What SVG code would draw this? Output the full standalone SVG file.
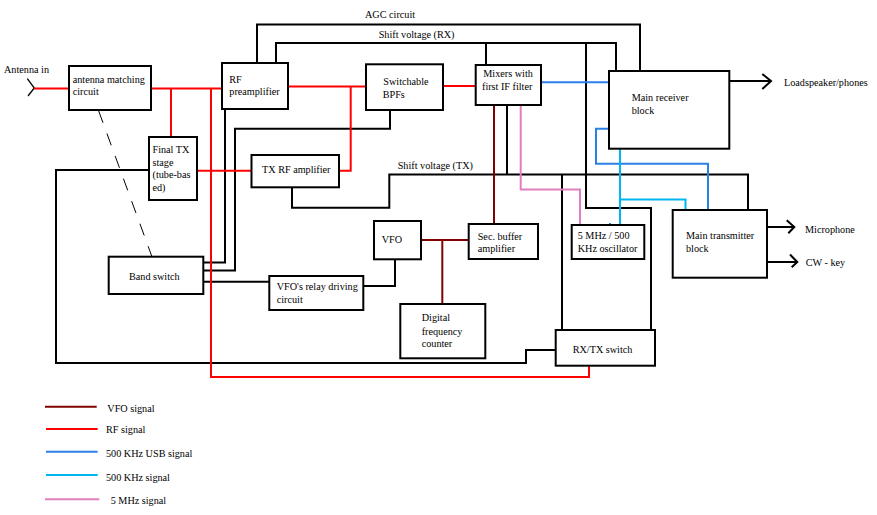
<svg xmlns="http://www.w3.org/2000/svg" width="877" height="515" viewBox="0 0 877 515">
<style>
.box{fill:#fff;stroke:#000;stroke-width:2}
.t{font-family:"Liberation Serif","Times New Roman",serif;font-size:10.2px;fill:#000}
.k{fill:none;stroke:#000;stroke-width:2}
.thin{fill:none;stroke:#000;stroke-width:1.3}
.rf{fill:none;stroke:#ff0000;stroke-width:2}
.vfo{fill:none;stroke:#800000;stroke-width:2}
.usb{fill:none;stroke:#2b80e6;stroke-width:2}
.k500{fill:none;stroke:#00b5f0;stroke-width:2}
.mhz{fill:none;stroke:#e07fbd;stroke-width:2}
</style>
<rect width="877" height="515" fill="#fff"/>
<g id="connectors">
<!-- black control lines -->
<polyline class="k" points="257,63 257,24.5 640,24.5 640,71"/>
<polyline class="k" points="276,63 276,43 616,43 616,71"/>
<polyline class="k" points="486,43 486,65"/>
<polyline class="k" points="586,43 586,208 651,208 651,330"/>
<polyline class="k" points="225,109 225,262.5 203,262.5"/>
<polyline class="k" points="390,110 390,128.7 235,128.7 235,270.5 203,270.5"/>
<polyline class="k" points="149,170 56,170 56,363 526,363 526,350 555.7,350"/>
<polyline class="k" points="292,187 292,207.7 389.3,207.7 389.3,174.5 748,174.5 748,210"/>
<polyline class="k" points="507,105 507,174.5"/>
<polyline class="k" points="562,174.5 562,330"/>
<polyline class="k" points="203,281.7 269.3,281.7"/>
<polyline class="k" points="363.3,286 395,286 395,259.3"/>
<polyline class="k" points="729,81 771,81"/>
<polyline class="k" points="762.3,74 771,81 762.3,89"/>
<polyline class="k" points="767,227 794,227"/>
<polyline class="k" points="786.7,220.3 794.3,227 788.3,233.3"/>
<polyline class="k" points="767,262 797,262"/>
<polyline class="k" points="790,254.5 797.3,262 791.7,267.3"/>
<polyline class="thin" points="27.3,78.7 34.3,88 28,96"/>
<line x1="98.7" y1="111" x2="151.7" y2="256" stroke="#000" stroke-width="1" stroke-dasharray="12.5 11.5"/>
<!-- RF -->
<polyline class="rf" points="34,88.5 70,88.5"/>
<polyline class="rf" points="151,88.5 222,88.5"/>
<polyline class="rf" points="171,88.5 171,137"/>
<polyline class="rf" points="211,88.5 211,377 589,377 589,366"/>
<polyline class="rf" points="197,170.7 251.7,170.7"/>
<polyline class="rf" points="288,86.5 366,86.5"/>
<polyline class="rf" points="339,170.7 350.7,170.7 350.7,86.5"/>
<polyline class="rf" points="443,86 476,86"/>
<!-- VFO -->
<polyline class="vfo" points="421,240 469,240"/>
<polyline class="vfo" points="442.3,240 442.3,304"/>
<polyline class="vfo" points="494,105 494,224"/>
<!-- 500 KHz USB -->
<polyline class="usb" points="541,82.3 609,82.3"/>
<polyline class="usb" points="609,128.7 596,128.7 596,163.7 708,163.7 708,210"/>
<polyline class="usb" points="610,223 610,226"/>
<!-- 500 KHz -->
<polyline class="k500" points="620,149 620,225"/>
<polyline class="k500" points="620,199.5 685.5,199.5 685.5,210"/>
<!-- 5 MHz -->
<polyline class="mhz" points="520.7,105 520.7,189.5 580,189.5 580,225"/>
</g>
<g id="labels">
<text class="t" x="4" y="73">Antenna in</text>
<text class="t" x="365" y="18.3">AGC circuit</text>
<text class="t" x="378.7" y="37.7">Shift voltage (RX)</text>
<text class="t" x="397.7" y="169.3">Shift voltage (TX)</text>
<text class="t" x="784" y="86.3">Loadspeaker/phones</text>
<text class="t" x="805" y="232.7">Microphone</text>
<text class="t" x="805.7" y="265.7">CW - key</text>
</g>
<g id="antenna-matching">
<rect class="box" x="69" y="66" width="82" height="44"/>
<text class="t" x="72.7" y="83.3">antenna matching</text>
<text class="t" x="72.7" y="95.3">circuit</text>
</g>
<g id="rf-preamp">
<rect class="box" x="222" y="63" width="66" height="46"/>
<text class="t" x="229.3" y="82.7">RF</text>
<text class="t" x="229.3" y="95.3">preamplifier</text>
</g>
<g id="final-tx">
<rect class="box" x="149" y="137" width="48" height="63"/>
<text class="t" x="152.5" y="152.7">Final TX</text>
<text class="t" x="152.5" y="165.7">stage</text>
<text class="t" x="152.5" y="178.3">(tube-bas</text>
<text class="t" x="152.5" y="191">ed)</text>
</g>
<g id="tx-rf-amp">
<rect class="box" x="251.5" y="155" width="87.5" height="32.3"/>
<text class="t" x="262" y="173.3">TX RF amplifier</text>
</g>
<g id="bpf">
<rect class="box" x="366" y="64.3" width="77" height="45.7"/>
<text class="t" x="383.3" y="84.7">Switchable</text>
<text class="t" x="382.7" y="97.7">BPFs</text>
</g>
<g id="mixers">
<rect class="box" x="475.7" y="65" width="65.3" height="40"/>
<text class="t" x="483.3" y="77">Mixers with</text>
<text class="t" x="482" y="90.3">first IF filter</text>
</g>
<g id="main-receiver">
<rect class="box" x="609" y="71" width="120.3" height="77.7"/>
<text class="t" x="631.7" y="101">Main receiver</text>
<text class="t" x="631.7" y="113.7">block</text>
</g>
<g id="oscillator">
<rect class="box" x="571.7" y="225" width="72.6" height="34"/>
<text class="t" x="577.7" y="238.7">5 MHz / 500</text>
<text class="t" x="577.7" y="251.7">KHz oscillator</text>
</g>
<g id="main-transmitter">
<rect class="box" x="672.7" y="210" width="94.3" height="67.7"/>
<text class="t" x="686" y="239">Main transmitter</text>
<text class="t" x="686" y="251.7">block</text>
</g>
<g id="rxtx-switch">
<rect class="box" x="555.7" y="330" width="99.3" height="35.7"/>
<text class="t" x="572.7" y="352.7">RX/TX switch</text>
</g>
<g id="band-switch">
<rect class="box" x="108.7" y="256.7" width="94.6" height="37.3"/>
<text class="t" x="129" y="280">Band switch</text>
</g>
<g id="relay-driver">
<rect class="box" x="269.3" y="276" width="94" height="34"/>
<text class="t" x="276.7" y="290.3">VFO's relay driving</text>
<text class="t" x="276.7" y="303.3">circuit</text>
</g>
<g id="vfo">
<rect class="box" x="374" y="221" width="47" height="38.3"/>
<text class="t" x="381.7" y="243.3">VFO</text>
</g>
<g id="sec-buffer">
<rect class="box" x="468.7" y="224" width="69.3" height="35"/>
<text class="t" x="477.7" y="239.7">Sec. buffer</text>
<text class="t" x="477.7" y="252.3">amplifier</text>
</g>
<g id="freq-counter">
<rect class="box" x="400.3" y="304" width="85" height="54.3"/>
<text class="t" x="421.7" y="321.3">Digital</text>
<text class="t" x="421.7" y="334.7">frequency</text>
<text class="t" x="421.7" y="347.3">counter</text>
</g>
<g id="legend">
<line class="vfo" x1="45" y1="406.7" x2="96.7" y2="406.7"/>
<text class="t" x="107.3" y="412.3">VFO signal</text>
<line class="rf" x1="46" y1="429" x2="97.7" y2="429"/>
<text class="t" x="106" y="432.7">RF signal</text>
<line class="usb" x1="46" y1="451.7" x2="97.7" y2="451.7"/>
<text class="t" x="106" y="456.7">500 KHz USB signal</text>
<line class="k500" x1="46" y1="475" x2="97.7" y2="475"/>
<text class="t" x="106" y="481">500 KHz signal</text>
<line class="mhz" x1="45" y1="499.3" x2="99.3" y2="499.3"/>
<text class="t" x="110.7" y="504">5 MHz signal</text>
</g>
</svg>
